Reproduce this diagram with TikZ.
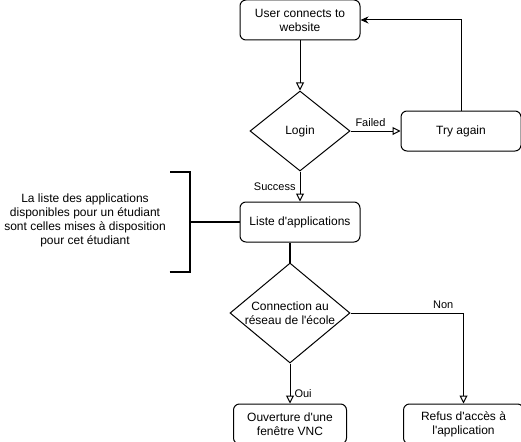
\documentclass[tikz,border=0pt]{standalone}
\usepackage{fontspec}
\setmainfont{Liberation Sans}
\usetikzlibrary{shapes,arrows.meta,positioning}
\newcommand{\ap}{\textquotesingle}

\begin{document}
\begin{tikzpicture}[x=1pt,y=-1pt]
    \tikzset{
        process/.style = {rectangle, draw=black, fill=white, line width=1pt, rounded corners=6pt, minimum height=40pt, align=center, font=\fontsize{12}{14}\selectfont},
        decision/.style = {diamond, draw=black, fill=white, line width=1pt, inner sep=-4pt, aspect=1.2, align=center, font=\fontsize{12}{14}\selectfont},
        line/.style = {draw=black, line width=1pt, -{Triangle[open, length=8pt, width=8pt]}},
        back/.style = {draw=black, line width=1pt, -{Stealth[length=8pt, width=7pt]}},
        thick line/.style = {draw=black, line width=2pt},
        lbl/.style = {font=\fontsize{11}{13}\selectfont, inner sep=1pt},
    }
    \useasboundingbox (0,0) rectangle (521,441);

    \node[process, minimum width=120pt](user) at (300,20){User connects to\\website};

    \node[decision, minimum width=100pt, minimum height=80pt](login)[below = 50pt of user]{Login};

    \node[process, minimum width=120pt](retry)[right = 50pt of login]{Try again};

    \node[process, minimum width=120pt](apps)[below = 30pt of login]{Liste d\ap applications};

    \node[decision, minimum width=120pt, minimum height=100pt](network)[below = 20pt of apps, xshift=-10pt]{Connection au\\réseau de l\ap école};

    \node[process, minimum width=113pt](vnc)[below = 40pt of network]{Ouverture d\ap une\\fenêtre VNC};

    \node[process, minimum width=120pt](refused)[right = 56pt of vnc]{Refus d\ap accès à\\l\ap application};

    % bracket on the left of the list
    \coordinate (brace) at ([xshift=-50pt]apps.west);
    \draw[thick line] ([xshift=-20pt, yshift=-50pt]brace) -- ([yshift=-50pt]brace) -- ([yshift=50pt]brace) -- ([xshift=-20pt, yshift=50pt]brace);
    \draw[thick line] (brace) -- (apps.west);
    \node[align=center, font=\fontsize{12}{14}\selectfont](note) at (85,220){La liste des applications\\disponibles pour un étudiant\\sont celles mises à disposition\\pour cet étudiant};

    \path [line] (user) -- (login);
    \path [line] (login) -- node[lbl, above, pos=0.4, yshift=3pt]{Failed} (retry);
    \path [back] (retry.north) |- (user.east);
    \path [line] (login) -- node[lbl, left, pos=0.5, xshift=-3pt]{Success} (apps);
    \draw [thick line] (apps.south -| network.north) -- (network.north);
    \path [line] (network) -- node[lbl, right, pos=0.75, xshift=3pt]{Oui} (vnc);
    \path [line] (network.east) -| node[lbl, above, pos=0.41, yshift=3pt]{Non} (refused.north);

\end{tikzpicture}
\end{document}
